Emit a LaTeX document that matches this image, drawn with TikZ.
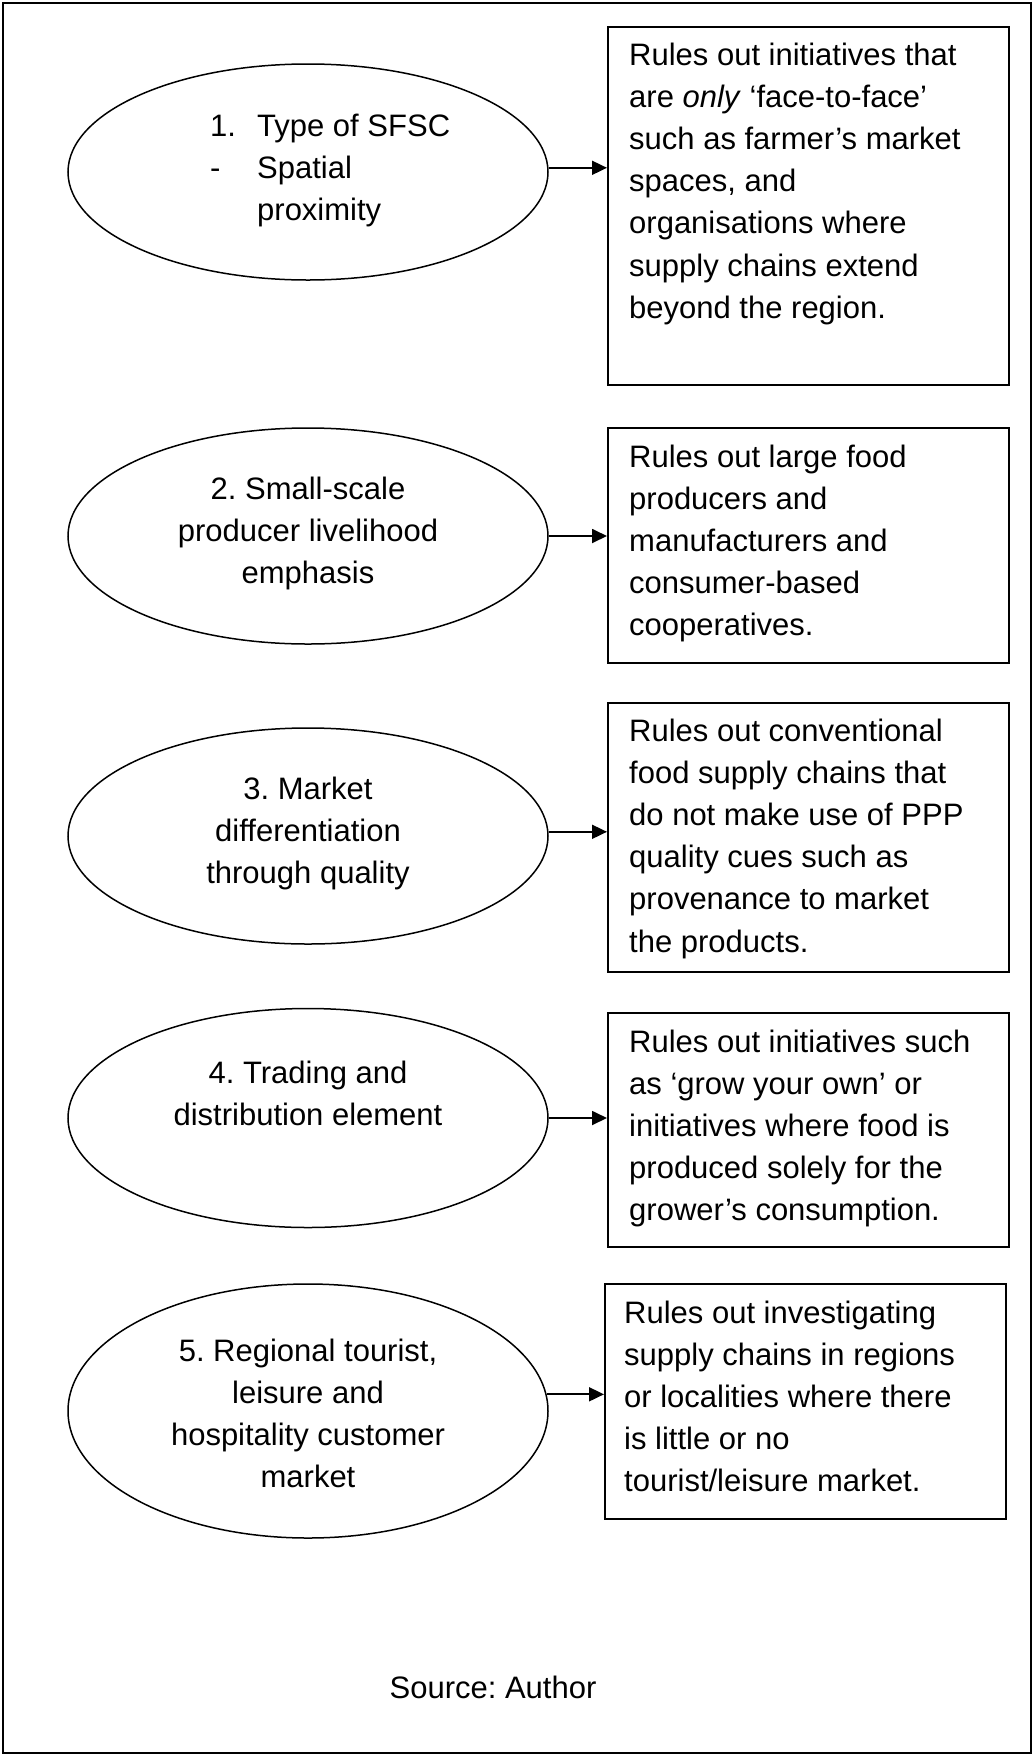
\documentclass[tikz,border=0pt]{standalone}
\usepackage{fontspec}
\setmainfont{Liberation Sans}
\usetikzlibrary{shapes.geometric,arrows.meta}
\frenchspacing
\begin{document}
\begin{tikzpicture}[x=1pt,y=-1pt,
  bubble/.style={draw, ellipse, line width=1.5pt, minimum width=480pt, inner sep=0pt},
  rulebox/.style={draw, line width=2.2pt, minimum width=401pt, anchor=north west, inner sep=0pt},
  body/.style={inner sep=0pt, font=\fontsize{31}{42.2}\selectfont\frenchspacing},
  conn/.style={line width=1.8pt, -{Triangle[length=15pt,width=14pt]}}]
\useasboundingbox (0,0) rectangle (1032,1754);

% outer frame
\node[draw, line width=2pt, minimum width=1028pt, minimum height=1750pt,
      anchor=north west, inner sep=0pt] (frame) at (2,2) {};

% criteria (ellipses)
\node[bubble, minimum height=216pt] (e1) at (308,172) {};
\node[bubble, minimum height=216pt] (e2) at (308,536) {};
\node[bubble, minimum height=216pt] (e3) at (308,836) {};
\node[bubble, minimum height=219pt] (e4) at (308,1118) {};
\node[bubble, minimum height=254pt] (e5) at (308,1411) {};

% criteria labels
\node[body, anchor=base west] (l1) at (210,136) {\begin{tabular}[t]{@{}l@{}}%
  \makebox[47pt][l]{1.}Type of SFSC\\
  \makebox[47pt][l]{-}Spatial\\
  \hspace*{47pt}proximity\end{tabular}};
\node[body, anchor=base] (l2) at (308,499) {\begin{tabular}[t]{@{}c@{}}%
  2. Small-scale\\ producer livelihood\\ emphasis\end{tabular}};
\node[body, anchor=base] (l3) at (308,799) {\begin{tabular}[t]{@{}c@{}}%
  3. Market\\ differentiation\\ through quality\end{tabular}};
\node[body, anchor=base] (l4) at (308,1083) {\begin{tabular}[t]{@{}c@{}}%
  4. Trading and\\ distribution element\end{tabular}};
\node[body, anchor=base] (l5) at (308,1361) {\begin{tabular}[t]{@{}c@{}}%
  5. Regional tourist,\\ leisure and\\ hospitality customer\\ market\end{tabular}};

% exclusion boxes
\node[rulebox, minimum height=358pt] (b1) at (607,26) {};
\node[rulebox, minimum height=235pt] (b2) at (607,427) {};
\node[rulebox, minimum height=269pt] (b3) at (607,702) {};
\node[rulebox, minimum height=234pt] (b4) at (607,1012) {};
\node[rulebox, minimum height=235pt] (b5) at (604,1283) {};

% exclusion texts
\node[body, anchor=base west] (r1) at (629,65) {\begin{tabular}[t]{@{}l@{}}%
  Rules out initiatives that\\
  are \textit{only} ‘face-to-face’\\
  such as farmer’s market\\
  spaces, and\\
  organisations where\\
  supply chains extend\\
  beyond the region.\end{tabular}};
\node[body, anchor=base west] (r2) at (629,467) {\begin{tabular}[t]{@{}l@{}}%
  Rules out large food\\
  producers and\\
  manufacturers and\\
  consumer-based\\
  cooperatives.\end{tabular}};
\node[body, anchor=base west] (r3) at (629,741) {\begin{tabular}[t]{@{}l@{}}%
  Rules out conventional\\
  food supply chains that\\
  do not make use of PPP\\
  quality cues such as\\
  provenance to market\\
  the products.\end{tabular}};
\node[body, anchor=base west] (r4) at (629,1052) {\begin{tabular}[t]{@{}l@{}}%
  Rules out initiatives such\\
  as ‘grow your own’ or\\
  initiatives where food is\\
  produced solely for the\\
  grower’s consumption.\end{tabular}};
\node[body, anchor=base west] (r5) at (624,1323) {\begin{tabular}[t]{@{}l@{}}%
  Rules out investigating\\
  supply chains in regions\\
  or localities where there\\
  is little or no\\
  tourist/leisure market.\end{tabular}};

% connectors
\draw[conn] (e1.1) -- (e1.1 -| b1.west);
\draw[conn] (e2.0.5) -- (e2.0.5 -| b2.west);
\draw[conn] (e3.1.2) -- (e3.1.2 -| b3.west);
\draw[conn] (e4.east) -- (e4.east -| b4.west);
\draw[conn] (e5.4.3) -- (e5.4.3 -| b5.west);

% source line
\node[body, anchor=base] (src) at (493,1698) {Source: Author};
\end{tikzpicture}
\end{document}
